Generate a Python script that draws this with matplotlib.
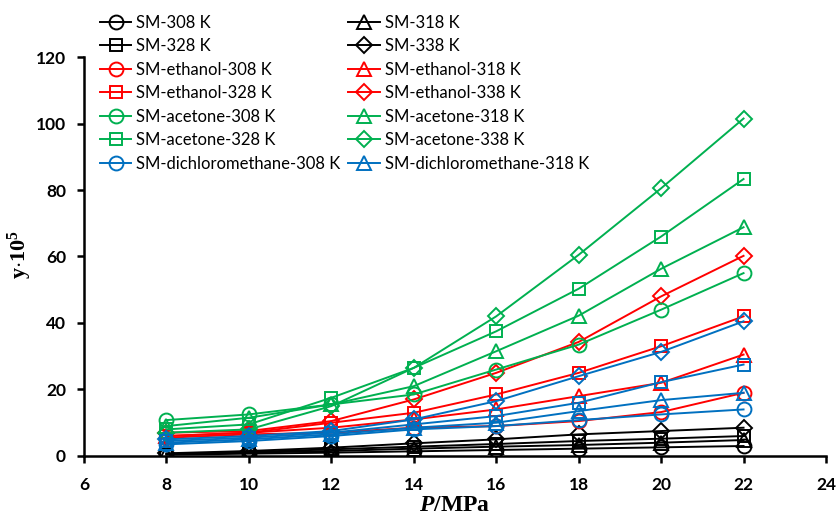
import matplotlib
matplotlib.use("Agg")
import matplotlib.pyplot as plt

plt.rcParams['mathtext.fontset'] = 'custom'
plt.rcParams['mathtext.rm'] = 'Liberation Serif:bold'
plt.rcParams['mathtext.it'] = 'Liberation Serif:bold:italic'
plt.rcParams['mathtext.bf'] = 'Liberation Serif:bold'

pressure = [8, 10, 12, 14, 16, 18, 20, 22]

sm_308 = [0.4, 0.7, 1.0, 1.4, 1.8, 2.2, 2.6, 3.0]
sm_318 = [0.5, 1.0, 1.5, 2.2, 2.8, 3.3, 4.0, 4.8]
sm_328 = [0.6, 1.2, 2.0, 2.8, 3.6, 4.5, 5.2, 6.0]
sm_338 = [0.8, 1.5, 2.5, 3.8, 5.0, 6.5, 7.5, 8.5]

eth_308 = [5.5, 6.5, 7.0, 8.5, 9.0, 10.5, 13.2, 19.0]
eth_318 = [6.0, 7.0, 8.5, 11.0, 14.0, 18.0, 22.0, 30.5]
eth_328 = [6.0, 7.0, 10.0, 13.0, 18.5, 25.0, 33.0, 42.0]
eth_338 = [7.0, 7.5, 10.5, 17.0, 25.0, 34.3, 48.0, 60.2]

ace_308 = [10.8, 12.5, 15.5, 18.5, 26.0, 33.5, 44.0, 55.0]
ace_318 = [9.0, 11.5, 15.5, 21.0, 31.5, 42.2, 56.3, 68.8]
ace_328 = [8.0, 9.5, 17.5, 26.5, 37.5, 50.3, 66.0, 83.3]
ace_338 = [7.0, 8.0, 15.0, 26.5, 42.0, 60.5, 80.5, 101.5]

dcm_308 = [3.5, 4.5, 6.0, 8.0, 9.0, 10.8, 12.5, 14.0]
dcm_318 = [4.0, 5.0, 6.5, 8.5, 10.0, 13.5, 16.8, 19.0]
dcm_328 = [4.5, 5.5, 7.0, 9.5, 12.0, 16.0, 22.2, 27.5]
dcm_338 = [5.0, 6.0, 7.5, 11.0, 16.5, 24.0, 31.3, 40.5]

labels = ['SM-308 K', 'SM-318 K', 'SM-328 K', 'SM-338 K',
          'SM-ethanol-308 K', 'SM-ethanol-318 K', 'SM-ethanol-328 K', 'SM-ethanol-338 K',
          'SM-acetone-308 K', 'SM-acetone-318 K', 'SM-acetone-328 K', 'SM-acetone-338 K',
          'SM-dichloromethane-308 K', 'SM-dichloromethane-318 K',
          'SM-dichloromethane-328 K', 'SM-dichloromethane-338 K']
series = [sm_308, sm_318, sm_328, sm_338,
          eth_308, eth_318, eth_328, eth_338,
          ace_308, ace_318, ace_328, ace_338,
          dcm_308, dcm_318, dcm_328, dcm_338]

group_colors = ['#000000', '#FF0000', '#00B050', '#0070C0']
temp_markers = ['o', '^', 's', 'D']
marker_sizes = {'o': 10, '^': 10, 's': 8, 'D': 8}

fig = plt.figure(figsize=(8.39, 5.15), dpi=100)
ax = fig.add_axes([0.1001, 0.1146, 0.8844, 0.7747])

handles = []
for i, (lab, vals) in enumerate(zip(labels, series)):
    c = group_colors[i // 4]
    m = temp_markers[i % 4]
    h, = ax.plot(pressure, vals, color=c, marker=m, markersize=marker_sizes[m],
                 markerfacecolor='none', markeredgecolor=c, markeredgewidth=1.4,
                 linewidth=1.4, label=lab)
    handles.append(h)

ax.set_xlim(6, 24)
ax.set_ylim(0, 120)
ax.set_xticks(range(6, 25, 2))
ax.set_yticks(range(0, 121, 20))
for s in ['top', 'right']:
    ax.spines[s].set_visible(False)
for s in ['left', 'bottom']:
    ax.spines[s].set_linewidth(1.8)
ax.tick_params(direction='out', length=5, width=1.8, labelsize=12.5)
ax.tick_params(axis='x', pad=10)
ax.tick_params(axis='y', pad=8)
for t in ax.get_xticklabels() + ax.get_yticklabels():
    t.set_fontfamily('Lato')
    t.set_fontweight('bold')

ax.set_xlabel(r'$P$/MPa', fontfamily='Liberation Serif', fontweight='bold', fontsize=17)
ax.xaxis.set_label_coords(0.5, -0.098)
fig.text(20 / 839, 1 - 255 / 515, r'y$\cdot$10$^{5}$', rotation=90, ha='center', va='center',
         fontfamily='Liberation Serif', fontweight='bold', fontsize=16)

# legend: 7 rows x 2 columns, row-wise order (first 14 entries)
shown = handles[:14]
col1 = [shown[i] for i in range(0, 14, 2)]
col2 = [shown[i] for i in range(1, 14, 2)]
ordered = col1 + col2
leg = fig.legend(handles=ordered, labels=[h.get_label() for h in ordered],
                 ncol=2, loc='upper left', bbox_to_anchor=(0.100, 1.002),
                 frameon=False, prop={'family': 'Lato', 'size': 12},
                 handlelength=1.9, handletextpad=0.3, labelspacing=0.45,
                 columnspacing=0.45, borderpad=0.45)

fig.savefig('out.png', dpi=100)
